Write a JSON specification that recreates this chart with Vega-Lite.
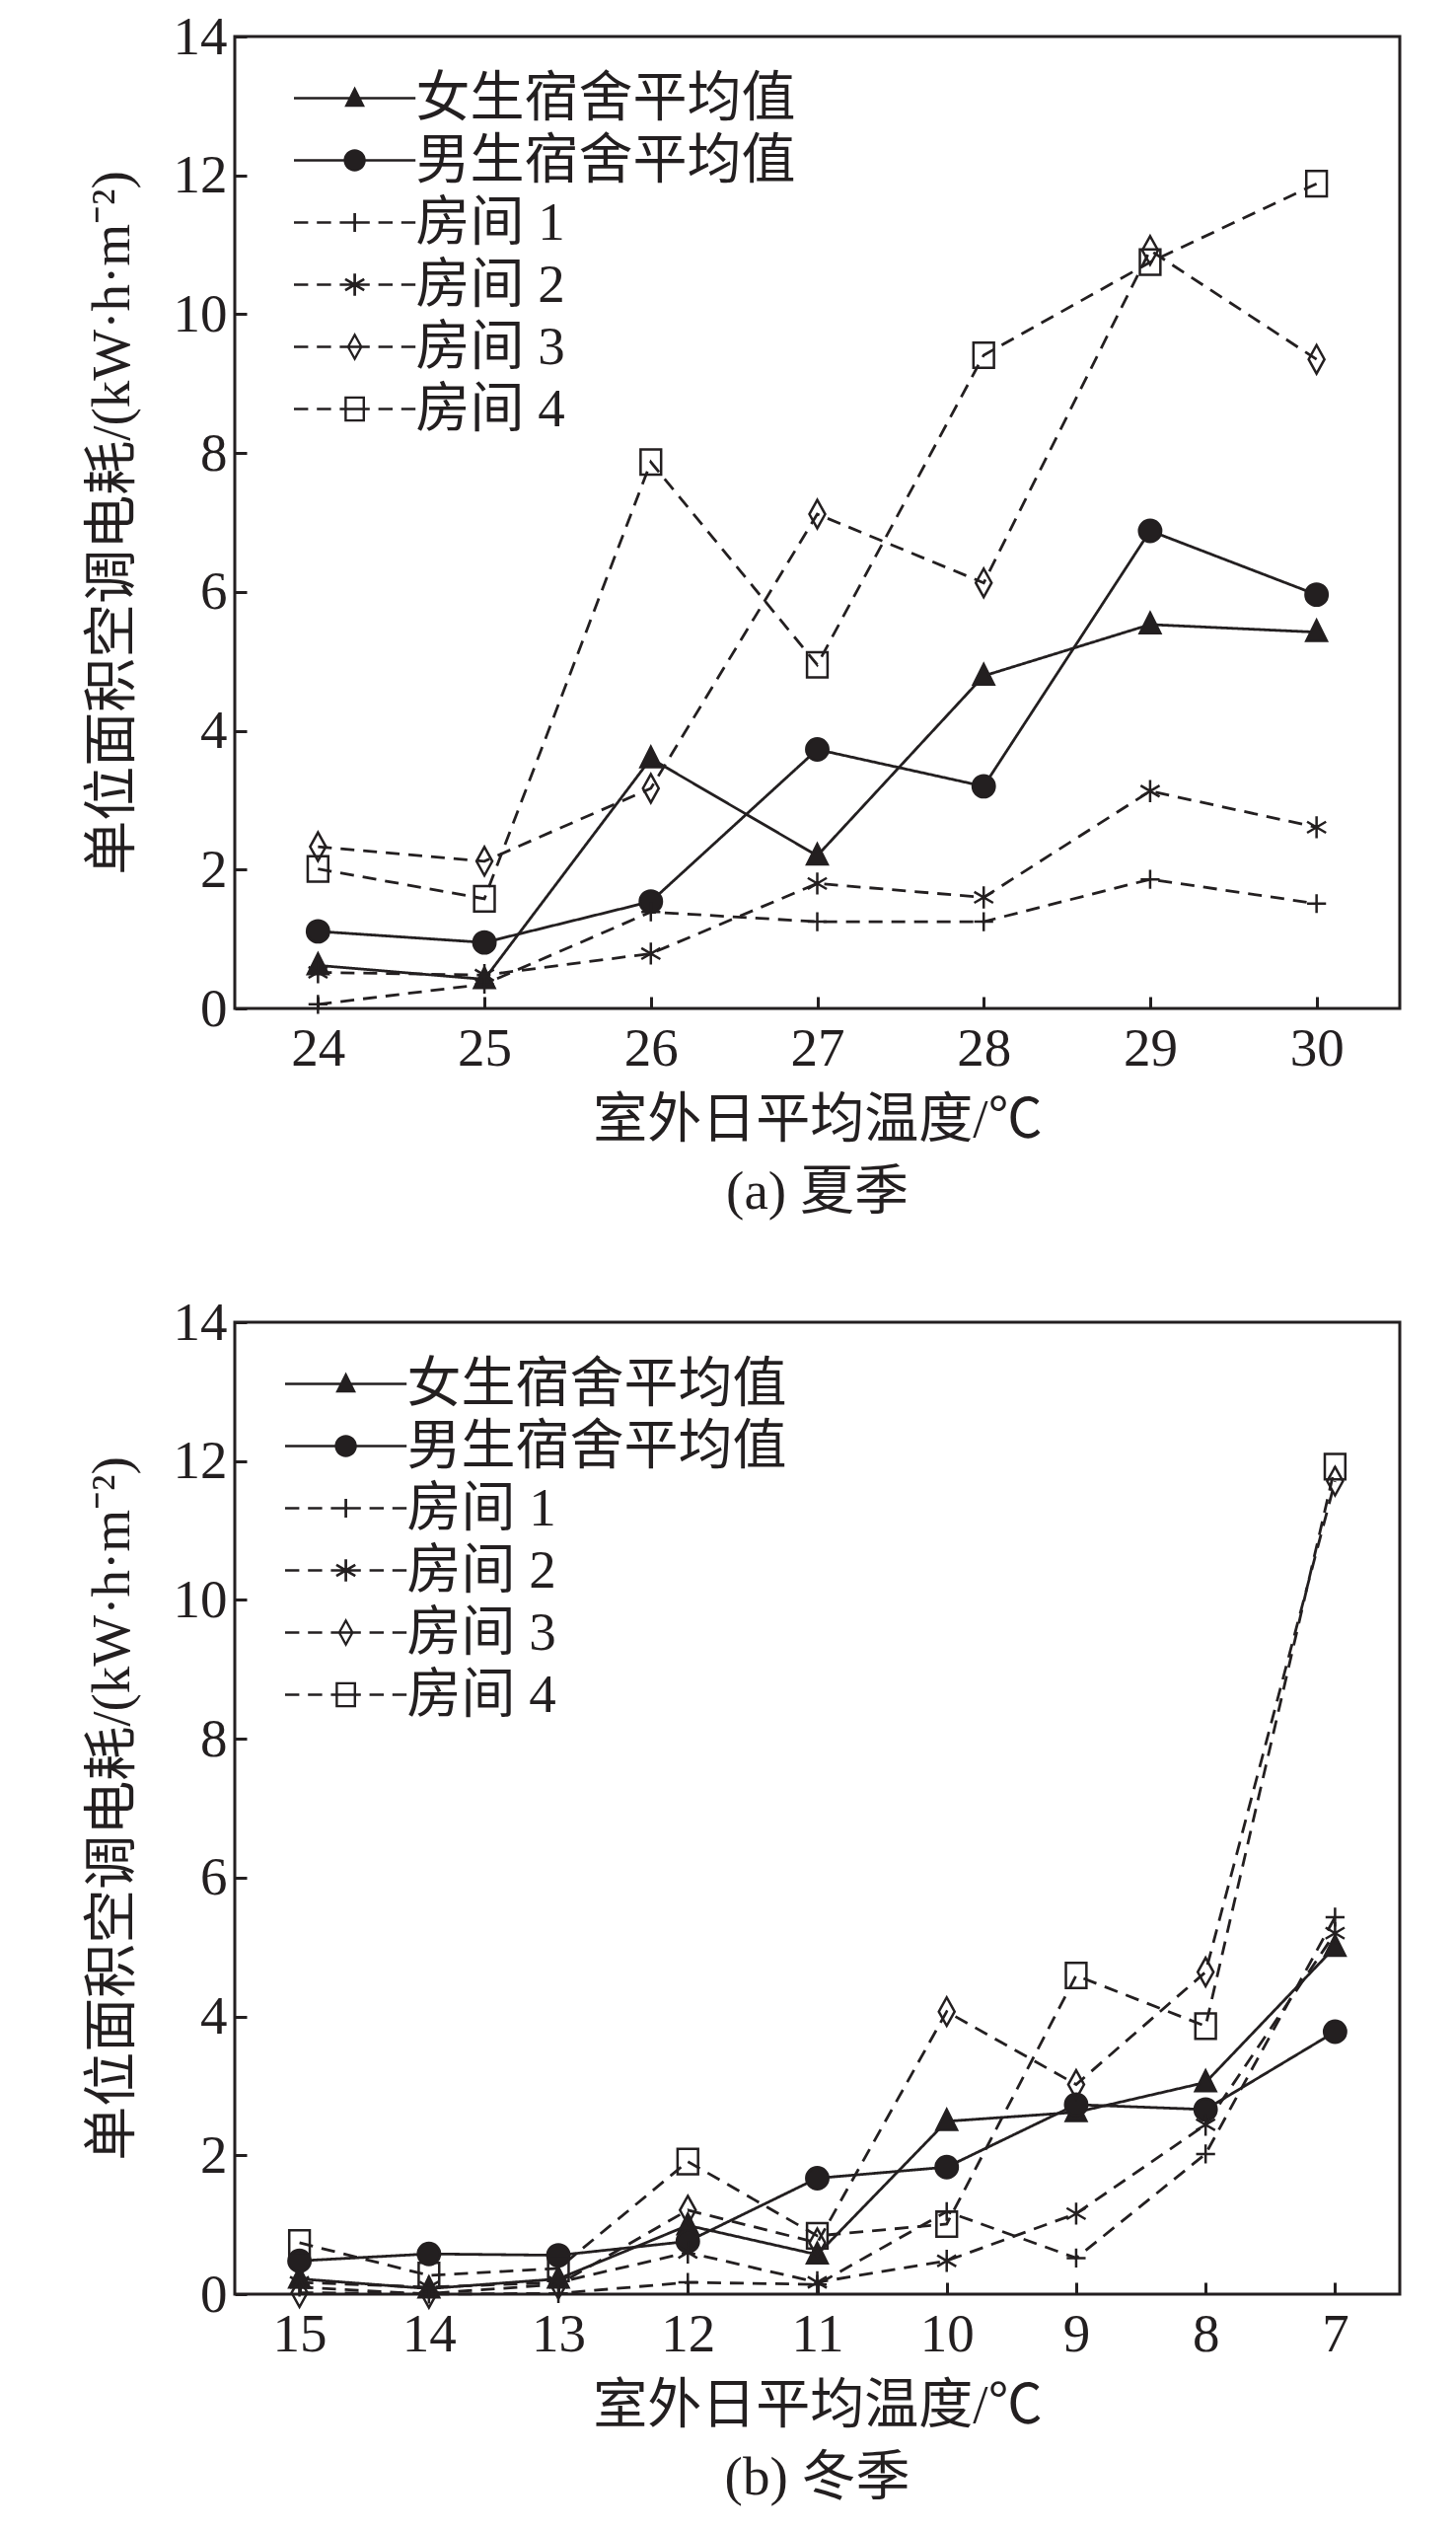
{
  "$schema": "https://vega.github.io/schema/vega-lite/v6.json",
  "background": "white",
  "padding": {"left": 84, "top": 8, "right": 40, "bottom": 10},
  "config": {
    "font": "Liberation Serif, Noto Sans CJK SC",
    "view": {"stroke": "#231f20", "strokeWidth": 3},
    "axis": {
      "grid": false,
      "domain": false,
      "labelFont": "Liberation Serif, Noto Sans CJK SC",
      "labelFontSize": 55,
      "labelColor": "#231f20",
      "titleFont": "Liberation Serif, Noto Sans CJK SC",
      "titleFontSize": 55,
      "titleFontWeight": "normal",
      "titleColor": "#231f20",
      "tickColor": "#231f20",
      "tickWidth": 3,
      "tickSize": -12
    },
    "axisX": {"labelAngle": 0, "labelPadding": 26, "titlePadding": 18},
    "axisY": {"labelPadding": 20, "titlePadding": 33},
    "legend": {
      "title": null,
      "padding": 0,
      "symbolSize": 256,
      "symbolStrokeWidth": 2.6,
      "symbolFillColor": "#231f20",
      "symbolStrokeColor": "#231f20",
      "symbolOpacity": 1,
      "labelFont": "Liberation Serif, Noto Sans CJK SC",
      "labelFontSize": 55,
      "labelColor": "#231f20",
      "labelLimit": 800,
      "labelOffset": 96,
      "rowPadding": 7
    },
    "title": {
      "font": "Liberation Serif, Noto Sans CJK SC",
      "fontSize": 55,
      "fontWeight": "normal",
      "color": "#231f20",
      "offset": 20
    },
    "concat": {"spacing": 73}
  },
  "datasets": {
    "summer": [
      {"t": 24, "s": "女生宿舍平均值", "v": 0.62},
      {"t": 25, "s": "女生宿舍平均值", "v": 0.42},
      {"t": 26, "s": "女生宿舍平均值", "v": 3.6},
      {"t": 27, "s": "女生宿舍平均值", "v": 2.2},
      {"t": 28, "s": "女生宿舍平均值", "v": 4.79},
      {"t": 29, "s": "女生宿舍平均值", "v": 5.53},
      {"t": 30, "s": "女生宿舍平均值", "v": 5.42},
      {"t": 24, "s": "男生宿舍平均值", "v": 1.11},
      {"t": 25, "s": "男生宿舍平均值", "v": 0.95},
      {"t": 26, "s": "男生宿舍平均值", "v": 1.54},
      {"t": 27, "s": "男生宿舍平均值", "v": 3.73},
      {"t": 28, "s": "男生宿舍平均值", "v": 3.2},
      {"t": 29, "s": "男生宿舍平均值", "v": 6.88},
      {"t": 30, "s": "男生宿舍平均值", "v": 5.96},
      {"t": 24, "s": "房间 1", "v": 0.06},
      {"t": 25, "s": "房间 1", "v": 0.35},
      {"t": 26, "s": "房间 1", "v": 1.39},
      {"t": 27, "s": "房间 1", "v": 1.25},
      {"t": 28, "s": "房间 1", "v": 1.25},
      {"t": 29, "s": "房间 1", "v": 1.86},
      {"t": 30, "s": "房间 1", "v": 1.51},
      {"t": 24, "s": "房间 2", "v": 0.52},
      {"t": 25, "s": "房间 2", "v": 0.48},
      {"t": 26, "s": "房间 2", "v": 0.79},
      {"t": 27, "s": "房间 2", "v": 1.8},
      {"t": 28, "s": "房间 2", "v": 1.6},
      {"t": 29, "s": "房间 2", "v": 3.13},
      {"t": 30, "s": "房间 2", "v": 2.61},
      {"t": 24, "s": "房间 3", "v": 2.33},
      {"t": 25, "s": "房间 3", "v": 2.12},
      {"t": 26, "s": "房间 3", "v": 3.17},
      {"t": 27, "s": "房间 3", "v": 7.12},
      {"t": 28, "s": "房间 3", "v": 6.13},
      {"t": 29, "s": "房间 3", "v": 10.92},
      {"t": 30, "s": "房间 3", "v": 9.35},
      {"t": 24, "s": "房间 4", "v": 2.01},
      {"t": 25, "s": "房间 4", "v": 1.58},
      {"t": 26, "s": "房间 4", "v": 7.87},
      {"t": 27, "s": "房间 4", "v": 4.95},
      {"t": 28, "s": "房间 4", "v": 9.41},
      {"t": 29, "s": "房间 4", "v": 10.75},
      {"t": 30, "s": "房间 4", "v": 11.88}
    ],
    "winter": [
      {"t": 15, "s": "女生宿舍平均值", "v": 0.22},
      {"t": 14, "s": "女生宿舍平均值", "v": 0.08},
      {"t": 13, "s": "女生宿舍平均值", "v": 0.22},
      {"t": 12, "s": "女生宿舍平均值", "v": 0.99},
      {"t": 11, "s": "女生宿舍平均值", "v": 0.57},
      {"t": 10, "s": "女生宿舍平均值", "v": 2.49},
      {"t": 9, "s": "女生宿舍平均值", "v": 2.62},
      {"t": 8, "s": "女生宿舍平均值", "v": 3.05},
      {"t": 7, "s": "女生宿舍平均值", "v": 5.0},
      {"t": 15, "s": "男生宿舍平均值", "v": 0.48},
      {"t": 14, "s": "男生宿舍平均值", "v": 0.58},
      {"t": 13, "s": "男生宿舍平均值", "v": 0.56},
      {"t": 12, "s": "男生宿舍平均值", "v": 0.76},
      {"t": 11, "s": "男生宿舍平均值", "v": 1.67},
      {"t": 10, "s": "男生宿舍平均值", "v": 1.83},
      {"t": 9, "s": "男生宿舍平均值", "v": 2.73},
      {"t": 8, "s": "男生宿舍平均值", "v": 2.66},
      {"t": 7, "s": "男生宿舍平均值", "v": 3.78},
      {"t": 15, "s": "房间 1", "v": 0.1},
      {"t": 14, "s": "房间 1", "v": 0.0},
      {"t": 13, "s": "房间 1", "v": 0.01},
      {"t": 12, "s": "房间 1", "v": 0.17},
      {"t": 11, "s": "房间 1", "v": 0.14},
      {"t": 10, "s": "房间 1", "v": 1.19},
      {"t": 9, "s": "房间 1", "v": 0.52},
      {"t": 8, "s": "房间 1", "v": 2.02},
      {"t": 7, "s": "房间 1", "v": 5.43},
      {"t": 15, "s": "房间 2", "v": 0.17},
      {"t": 14, "s": "房间 2", "v": 0.1},
      {"t": 13, "s": "房间 2", "v": 0.17},
      {"t": 12, "s": "房间 2", "v": 0.6},
      {"t": 11, "s": "房间 2", "v": 0.17},
      {"t": 10, "s": "房间 2", "v": 0.48},
      {"t": 9, "s": "房间 2", "v": 1.16},
      {"t": 8, "s": "房间 2", "v": 2.44},
      {"t": 7, "s": "房间 2", "v": 5.2},
      {"t": 15, "s": "房间 3", "v": 0.02},
      {"t": 14, "s": "房间 3", "v": 0.01},
      {"t": 13, "s": "房间 3", "v": 0.14},
      {"t": 12, "s": "房间 3", "v": 1.21},
      {"t": 11, "s": "房间 3", "v": 0.74},
      {"t": 10, "s": "房间 3", "v": 4.07},
      {"t": 9, "s": "房间 3", "v": 3.02},
      {"t": 8, "s": "房间 3", "v": 4.64},
      {"t": 7, "s": "房间 3", "v": 11.71},
      {"t": 15, "s": "房间 4", "v": 0.74},
      {"t": 14, "s": "房间 4", "v": 0.27},
      {"t": 13, "s": "房间 4", "v": 0.37},
      {"t": 12, "s": "房间 4", "v": 1.91},
      {"t": 11, "s": "房间 4", "v": 0.84},
      {"t": 10, "s": "房间 4", "v": 1.01},
      {"t": 9, "s": "房间 4", "v": 4.59},
      {"t": 8, "s": "房间 4", "v": 3.86},
      {"t": 7, "s": "房间 4", "v": 11.92}
    ]
  },
  "vconcat": [
    {
      "width": 1181,
      "height": 985,
      "title": {"text": "(a) 夏季", "orient": "bottom"},
      "data": {"name": "summer"},
      "encoding": {
        "x": {"field": "t", "type": "ordinal", "scale": {"type": "point", "padding": 0.5}, "axis": {"title": "室外日平均温度/℃"}},
        "y": {"field": "v", "type": "quantitative", "scale": {"domain": [0, 14], "nice": false}, "axis": {"title": "单位面积空调电耗/(kW·h·m⁻²)", "values": [0, 2, 4, 6, 8, 10, 12, 14]}}
      },
      "layer": [
        {
          "mark": {"type": "line", "color": "#231f20", "strokeWidth": 2.8},
          "encoding": {
            "strokeDash": {"field": "s", "type": "nominal", "legend": null, "scale": {"domain": ["女生宿舍平均值", "男生宿舍平均值", "房间 1", "房间 2", "房间 3", "房间 4"], "range": [[1, 0], [1, 0], [14, 9], [14, 9], [14, 9], [14, 9]]}}
          }
        },
        {
          "mark": {"type": "point", "filled": true, "size": 256, "stroke": "#231f20", "strokeWidth": 2.5, "opacity": 1},
          "encoding": {
            "shape": {"field": "s", "type": "nominal", "legend": null, "scale": {"domain": ["女生宿舍平均值", "男生宿舍平均值", "房间 1", "房间 2", "房间 3", "房间 4"], "range": ["M0,-1.5L1.3,1.1L-1.3,1.1Z", "M-1.4,0A1.4,1.4,0,1,1,1.4,0A1.4,1.4,0,1,1,-1.4,0Z", "M-1.2,0H1.2M0,-1.2V1.2", "M0,-1.4V1.4M-1.2,-0.7L1.2,0.7M-1.2,0.7L1.2,-0.7", "M0,-1.8L1,0L0,1.8L-1,0Z", "M-1.3,-1.6H1.3V1.6H-1.3Z"]}},
            "fill": {"field": "s", "type": "nominal", "legend": null, "scale": {"domain": ["女生宿舍平均值", "男生宿舍平均值", "房间 1", "房间 2", "房间 3", "房间 4"], "range": ["#231f20", "#231f20", "transparent", "transparent", "transparent", "transparent"]}}
          }
        },
        {
          "transform": [{"filter": "false"}],
          "mark": {"type": "point", "filled": true, "color": "#231f20", "opacity": 1},
          "encoding": {
            "shape": {
              "field": "s", "type": "nominal",
              "legend": {"orient": "none", "legendX": 32.5, "legendY": 35},
              "scale": {"domain": ["女生宿舍平均值", "男生宿舍平均值", "房间 1", "房间 2", "房间 3", "房间 4"], "range": [
                "M0,-0.17H15.4V0.17H0ZM7.7,-1.5L9,1.1L6.4,1.1Z",
                "M0,-0.17H15.4V0.17H0ZM6.3,0A1.4,1.4,0,1,1,9.1,0A1.4,1.4,0,1,1,6.3,0Z",
                "M0,-0.17H1.8V0.17H0ZM2.9,-0.17H4.7V0.17H2.9ZM5.8,-0.17H9.6V0.17H5.8ZM10.7,-0.17H12.5V0.17H10.7ZM13.6,-0.17H15.4V0.17H13.6ZM7.53,-1.2H7.87V1.2H7.53Z",
                "M0,-0.17H1.8V0.17H0ZM2.9,-0.17H4.7V0.17H2.9ZM5.8,-0.17H9.6V0.17H5.8ZM10.7,-0.17H12.5V0.17H10.7ZM13.6,-0.17H15.4V0.17H13.6ZM7.53,-1.4H7.87V1.4H7.53ZM6.586,-0.847L8.986,0.553L8.814,0.847L6.414,-0.553ZM6.414,0.553L8.814,-0.847L8.986,-0.553L6.586,0.847Z",
                "M0,-0.17H1.8V0.17H0ZM2.9,-0.17H4.7V0.17H2.9ZM5.8,-0.17H9.6V0.17H5.8ZM10.7,-0.17H12.5V0.17H10.7ZM13.6,-0.17H15.4V0.17H13.6ZM7.7,-1.8L8.7,0L7.7,1.8L6.7,0ZM7.7,-1.22L7.02,0L7.7,1.22L8.38,0Z",
                "M0,-0.17H1.8V0.17H0ZM2.9,-0.17H4.7V0.17H2.9ZM5.8,-0.17H9.6V0.17H5.8ZM10.7,-0.17H12.5V0.17H10.7ZM13.6,-0.17H15.4V0.17H13.6ZM6.4,-1.6H9V1.6H6.4ZM6.7,-1.3V1.3H8.7V-1.3Z"
              ]}
            }
          }
        }
      ],
      "resolve": {"scale": {"shape": "independent"}}
    },
    {
      "width": 1181,
      "height": 985,
      "title": {"text": "(b) 冬季", "orient": "bottom"},
      "data": {"name": "winter"},
      "encoding": {
        "x": {"field": "t", "type": "ordinal", "sort": "descending", "scale": {"type": "point", "padding": 0.5}, "axis": {"title": "室外日平均温度/℃"}},
        "y": {"field": "v", "type": "quantitative", "scale": {"domain": [0, 14], "nice": false}, "axis": {"title": "单位面积空调电耗/(kW·h·m⁻²)", "values": [0, 2, 4, 6, 8, 10, 12, 14]}}
      },
      "layer": [
        {
          "mark": {"type": "line", "color": "#231f20", "strokeWidth": 2.8},
          "encoding": {
            "strokeDash": {"field": "s", "type": "nominal", "legend": null, "scale": {"domain": ["女生宿舍平均值", "男生宿舍平均值", "房间 1", "房间 2", "房间 3", "房间 4"], "range": [[1, 0], [1, 0], [14, 9], [14, 9], [14, 9], [14, 9]]}}
          }
        },
        {
          "mark": {"type": "point", "filled": true, "size": 256, "stroke": "#231f20", "strokeWidth": 2.5, "opacity": 1},
          "encoding": {
            "shape": {"field": "s", "type": "nominal", "legend": null, "scale": {"domain": ["女生宿舍平均值", "男生宿舍平均值", "房间 1", "房间 2", "房间 3", "房间 4"], "range": ["M0,-1.5L1.3,1.1L-1.3,1.1Z", "M-1.4,0A1.4,1.4,0,1,1,1.4,0A1.4,1.4,0,1,1,-1.4,0Z", "M-1.2,0H1.2M0,-1.2V1.2", "M0,-1.4V1.4M-1.2,-0.7L1.2,0.7M-1.2,0.7L1.2,-0.7", "M0,-1.8L1,0L0,1.8L-1,0Z", "M-1.3,-1.6H1.3V1.6H-1.3Z"]}},
            "fill": {"field": "s", "type": "nominal", "legend": null, "scale": {"domain": ["女生宿舍平均值", "男生宿舍平均值", "房间 1", "房间 2", "房间 3", "房间 4"], "range": ["#231f20", "#231f20", "transparent", "transparent", "transparent", "transparent"]}}
          }
        },
        {
          "transform": [{"filter": "false"}],
          "mark": {"type": "point", "filled": true, "color": "#231f20", "opacity": 1},
          "encoding": {
            "shape": {
              "field": "s", "type": "nominal",
              "legend": {"orient": "none", "legendX": 23.5, "legendY": 35},
              "scale": {"domain": ["女生宿舍平均值", "男生宿舍平均值", "房间 1", "房间 2", "房间 3", "房间 4"], "range": [
                "M0,-0.17H15.4V0.17H0ZM7.7,-1.5L9,1.1L6.4,1.1Z",
                "M0,-0.17H15.4V0.17H0ZM6.3,0A1.4,1.4,0,1,1,9.1,0A1.4,1.4,0,1,1,6.3,0Z",
                "M0,-0.17H1.8V0.17H0ZM2.9,-0.17H4.7V0.17H2.9ZM5.8,-0.17H9.6V0.17H5.8ZM10.7,-0.17H12.5V0.17H10.7ZM13.6,-0.17H15.4V0.17H13.6ZM7.53,-1.2H7.87V1.2H7.53Z",
                "M0,-0.17H1.8V0.17H0ZM2.9,-0.17H4.7V0.17H2.9ZM5.8,-0.17H9.6V0.17H5.8ZM10.7,-0.17H12.5V0.17H10.7ZM13.6,-0.17H15.4V0.17H13.6ZM7.53,-1.4H7.87V1.4H7.53ZM6.586,-0.847L8.986,0.553L8.814,0.847L6.414,-0.553ZM6.414,0.553L8.814,-0.847L8.986,-0.553L6.586,0.847Z",
                "M0,-0.17H1.8V0.17H0ZM2.9,-0.17H4.7V0.17H2.9ZM5.8,-0.17H9.6V0.17H5.8ZM10.7,-0.17H12.5V0.17H10.7ZM13.6,-0.17H15.4V0.17H13.6ZM7.7,-1.8L8.7,0L7.7,1.8L6.7,0ZM7.7,-1.22L7.02,0L7.7,1.22L8.38,0Z",
                "M0,-0.17H1.8V0.17H0ZM2.9,-0.17H4.7V0.17H2.9ZM5.8,-0.17H9.6V0.17H5.8ZM10.7,-0.17H12.5V0.17H10.7ZM13.6,-0.17H15.4V0.17H13.6ZM6.4,-1.6H9V1.6H6.4ZM6.7,-1.3V1.3H8.7V-1.3Z"
              ]}
            }
          }
        }
      ],
      "resolve": {"scale": {"shape": "independent"}}
    }
  ]
}
